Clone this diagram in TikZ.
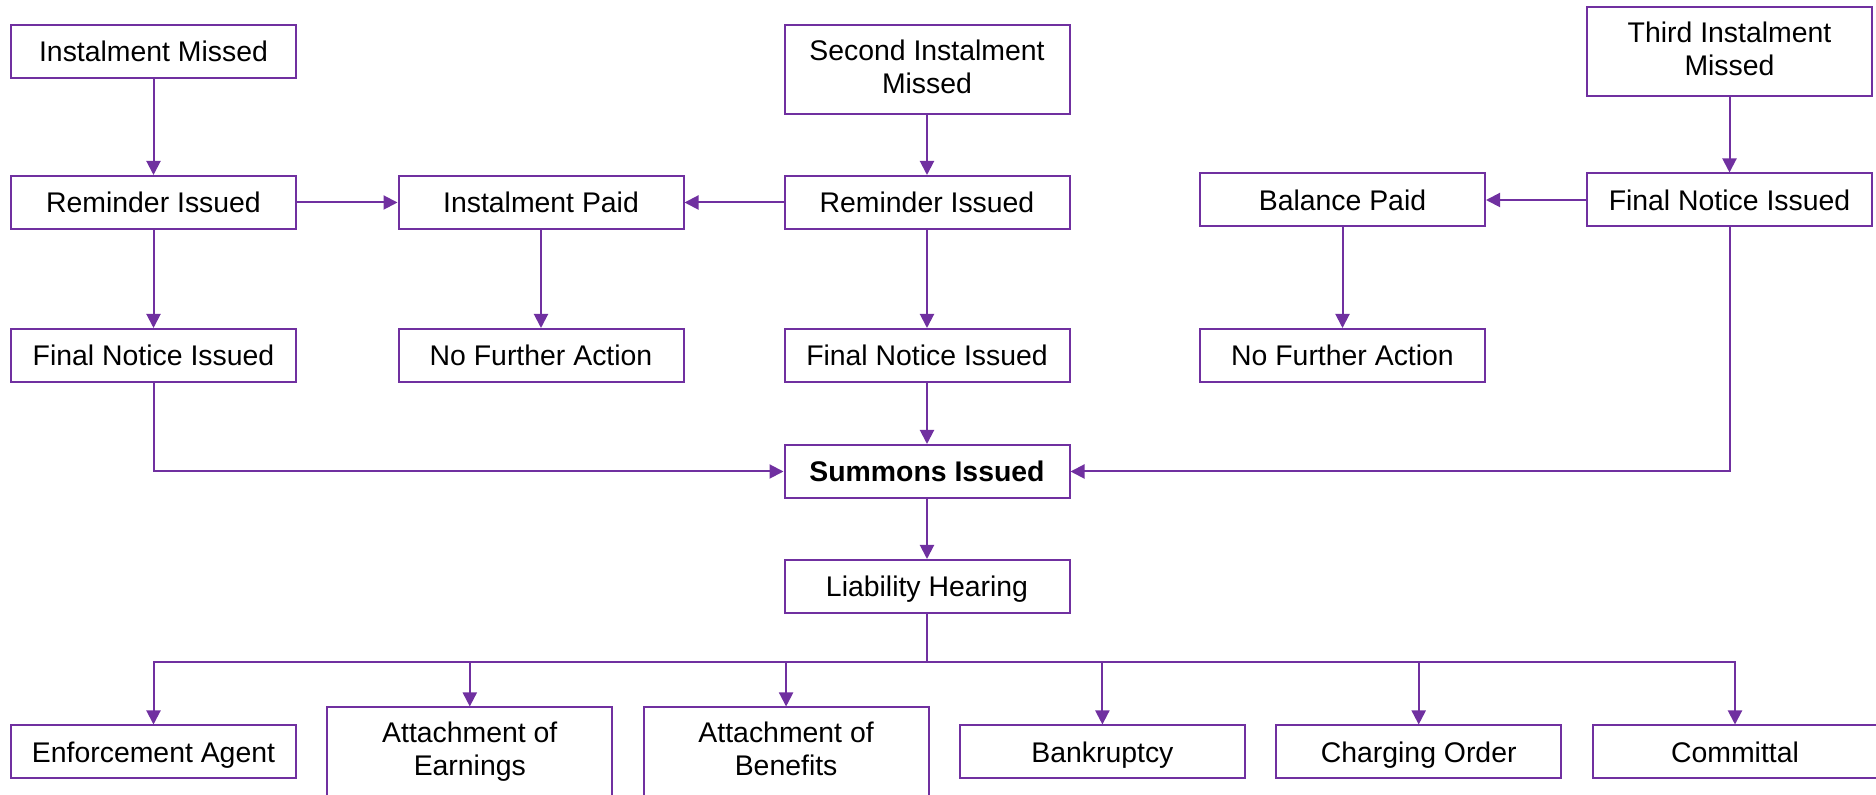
\documentclass[tikz,border=0pt]{standalone}
\usepackage{fontspec}
\setmainfont{Liberation Sans}
\usepackage{xcolor}
\usetikzlibrary{arrows.meta}
\definecolor{violetline}{HTML}{7030A0}

\begin{document}
\begin{tikzpicture}[x=0.5pt, y=-0.5pt,
		every node/.style={draw=violetline, line width=1pt, fill=white, minimum width=142.5pt, minimum height=26.5pt, align=center, inner sep=2pt, font=\fontsize{14.2}{16.5}\selectfont, execute at begin node={\rule[-3pt]{0pt}{16.2pt}}},
		tall/.style={minimum height=44.5pt, execute at begin node={}},
		link/.style={draw=violetline, line width=1pt, -{Triangle[length=7pt, width=7pt]}}]
	\useasboundingbox (0,0) rectangle (1876,795);
	% first instalment
	\node (missA) at (153.5,51.5) {Instalment Missed};
	\node (remA) at (153.5,202.5) {Reminder Issued};
	\node (finA) at (153.5,355.5) {Final Notice Issued};
	\node (paidA) at (541,202.5) {Instalment Paid};
	\node (nfaA) at (541,355.5) {No Further Action};
	% second instalment
	\node[tall] (missB) at (927,69.5) {Second Instalment\\Missed};
	\node (remB) at (927,202.5) {Reminder Issued};
	\node (finB) at (927,355.5) {Final Notice Issued};
	% third instalment
	\node[tall] (missC) at (1729.5,52) {Third Instalment\\Missed};
	\node (finC) at (1729.5,200) {Final Notice Issued};
	\node (paidC) at (1342.5,200) {Balance Paid};
	\node (nfaC) at (1342.5,355.5) {No Further Action};
	% court
	\node (summons) at (927,471.5) {\bfseries Summons Issued};
	\node (hearing) at (927,586.5) {Liability Hearing};
	\coordinate (fork) at (927,662);
	\foreach \nm/\txt/\sty[count=\i] in {agent/Enforcement Agent/, earn/{Attachment of\\Earnings}/tall, bene/{Attachment of\\Benefits}/tall, bank/Bankruptcy/, charge/Charging Order/, commit/Committal/}
	{
		\node[\sty] (\nm) at ({153.5+316.3*(\i-1)},752) {\txt};
		\draw[link] (hearing) -- (fork) -| (\nm);
	}

	\draw[link] (missA) -- (remA);
	\draw[link] (remA) -- (finA);
	\draw[link] (remA) -- (paidA);
	\draw[link] (paidA) -- (nfaA);
	\draw[link] (missB) -- (remB);
	\draw[link] (remB) -- (paidA);
	\draw[link] (remB) -- (finB);
	\draw[link] (finB) -- (summons);
	\draw[link] (missC) -- (finC);
	\draw[link] (finC) -- (paidC);
	\draw[link] (paidC) -- (nfaC);
	\draw[link] (finA) |- (summons);
	\draw[link] (finC) |- (summons);
	\draw[link] (summons) -- (hearing);
\end{tikzpicture}
\end{document}
